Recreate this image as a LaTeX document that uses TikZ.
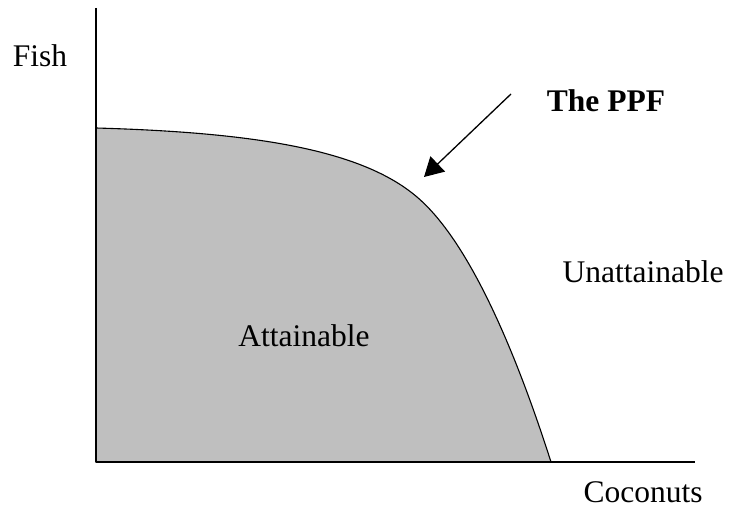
\documentclass[tikz,border=0pt]{standalone}
\usepackage{fontspec}
\setmainfont{Liberation Serif}
\usetikzlibrary{arrows.meta}

\begin{document}
\begin{tikzpicture}[
  x=1pt, y=-1pt,
  >={Triangle[length=19pt,width=21pt]},
  line join=round,
  every node/.style={font=\fontsize{31.5}{34}\selectfont, anchor=base},
  axis/.style={line width=1.5pt},
  frontier/.style={line width=1.1pt},
  region/.style={fill=black!25}
]
  \useasboundingbox (0,0) rectangle (729,508);

  % Axes corner and ends
  \coordinate (o) at (96,462);
  \coordinate (ytop) at (96,8);
  \coordinate (xend) at (695,462);

  % Frontier: start, bend, end
  \coordinate (f0) at (96,128);
  \coordinate (fm) at (417,197);
  \coordinate (f1) at (551,462);
  \def\ppfpath{(f0) .. controls (256,132.5) and (362,150) .. (fm)
    .. controls (472,243.75) and (519,362) .. (f1)}

  % Attainable set
  \fill[region] (o) -- \ppfpath -- cycle;

  % The PPF
  \draw[frontier] \ppfpath;

  % Axes
  \draw[axis] (ytop) -- (o) -- (xend);

  % Pointer
  \coordinate (ptail) at (511,94);
  \coordinate (phead) at (424,177);
  \draw[->, line width=1.3pt] (ptail) -- (phead);

  % Labels
  \node (fish) at (40,67) {Fish};
  \node (ppf) at (606,112) {\bfseries The PPF};
  \node (unatt) at (643,283) {Unattainable};
  \node (att) at (304,346) {Attainable};
  \node (coco) at (643,502) {Coconuts};
\end{tikzpicture}
\end{document}
